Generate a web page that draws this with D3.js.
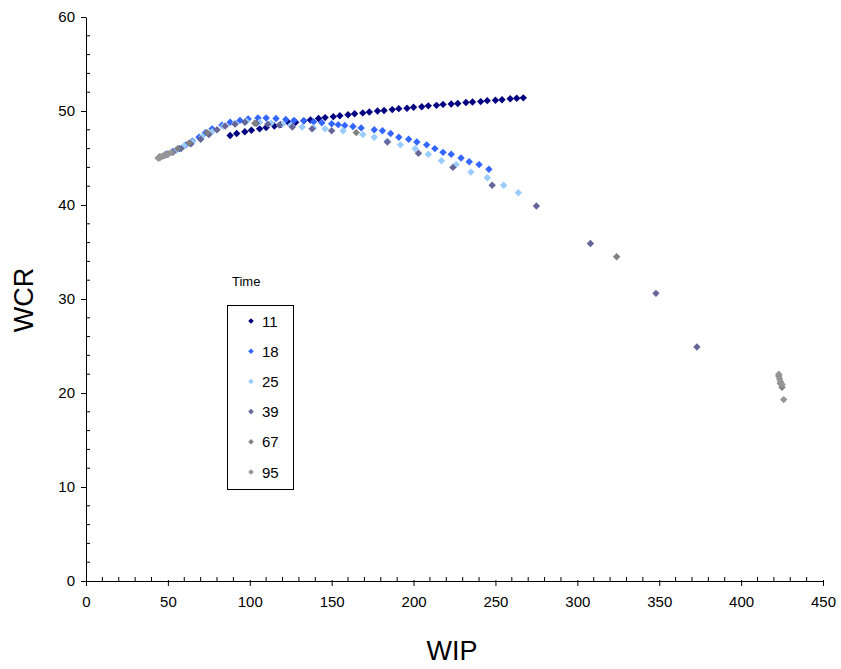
<!DOCTYPE html>
<html>
<head>
<meta charset="utf-8">
<script src="https://cdn.jsdelivr.net/npm/d3@7"></script>
<style>
  body { margin: 0; background: #fff; }
  text { font-family: "Liberation Sans", Arial, sans-serif; }
</style>
</head>
<body>
<svg></svg>
<script>
/**
 * Data.
 */
const seriesNames = ['11', '18', '25', '39', '67', '95'];
const seriesColors = ['#000080', '#3366ff', '#99ccff', '#666699', '#808080', '#969696'];

const t11 = [[88,47.4],[92,47.6],[97,47.8],[101,47.95],[106,48.1],[110,48.25],[115,48.4],[119,48.55],
  [124,48.7],[128,48.8],[133,48.95],[137,49.05],[142,49.2],[146,49.3],[151,49.4],[155,49.5],[160,49.6],
  [164,49.7],[169,49.8],[173,49.9],[178,50.0],[182,50.05],[187,50.15],[191,50.25],[196,50.3],[200,50.4],
  [205,50.45],[209,50.55],[214,50.6],[218,50.7],[223,50.75],[227,50.8],[232,50.9],[236,50.95],[241,51.0],
  [245,51.1],[250,51.15],[254,51.2],[259,51.3],[263,51.35],[267,51.4]];
const t18 = [[45,45.1],[49,45.4],[53,45.7],[57,46.0],[61,46.4],[65,46.8],[69,47.2],[73,47.7],[77,48.1],
  [83,48.5],[88,48.8],[94,49.0],[99,49.15],[105,49.25],[110,49.25],[116,49.2],[122,49.1],[127,49.0],[133,48.95],
  [139,48.85],[144,48.75],[150,48.65],[154,48.55],[158,48.45],[163,48.35],[168,48.2],[176,48.0],[181,47.9],
  [186,47.6],[191,47.2],[197,47.0],[202,46.7],[208,46.4],[213,46.0],[218,45.6],[223,45.4],[229,45.0],
  [234,44.6],[240,44.3],[246,43.8]];
const t25 = [[45,45.0],[50,45.4],[55,45.8],[60,46.3],[65,46.7],[71,47.3],[77,47.8],[84,48.4],[91,48.7],
  [98,48.9],[106,48.8],[113,48.7],[120,48.6],[125,48.5],[132,48.3],[139,48.2],[146,48.1],[157,47.9],
  [169,47.5],[176,47.2],[184,46.8],[192,46.4],[201,46.0],[209,45.4],[217,44.7],[226,44.3],[235,43.5],
  [245,42.9],[255,42.1],[264,41.3]];
const t39 = [[48,45.3],[53,45.6],[58,46.0],[64,46.5],[70,47.0],[75,47.5],[80,48.0],[85,48.4],[91,48.6],
  [97,48.8],[104,48.7],[111,48.6],[118,48.5],[126,48.3],[138,48.1],[150,47.9],[184,46.7],[203,45.5],
  [224,44.0],[248,42.1],[275,39.9],[308,35.9],[348,30.6],[373,24.9]];
const t67 = [[45,45.1],[50,45.4],[56,46.0],[63,46.6],[74,47.7],[103,48.7],[165,47.7],[324,34.5],
  [423,21.8],[424,21.0],[425,20.6]];
const t95 = [[44,45.0],[45,45.05],[46,45.15],[47,45.2],[48,45.3],[50,45.45],[52,45.6],
  [423,22.0],[423.5,21.5],[424,21.2],[425,20.9],[426,19.3]];
const seriesData = [t11, t18, t25, t39, t67, t95];

const xTicks = [0, 50, 100, 150, 200, 250, 300, 350, 400, 450];
const yTicks = [0, 10, 20, 30, 40, 50, 60];

/**
 * Set stuff up.
 */
const width = 841, height = 669;
const svg = d3.select('svg').attr('width', width).attr('height', height);

const x = d3.scaleLinear().domain([0, 450]).range([86, 823]);
const y = d3.scaleLinear().domain([0, 60]).range([581, 17]);

const diamond = r => `M0,${-r}L${r},0L0,${r}L${-r},0Z`;

/**
 * Axes: major ticks outside, minor inside.
 */
const xMinor = d3.range(0, 451, 10).filter(v => v % 50);
const yMinor = d3.range(0, 61, 2).filter(v => v % 10);

const gx = svg.append('g').attr('transform', `translate(0,${y(0)})`);
gx.call(d3.axisBottom(x).tickValues(xTicks).tickSize(5).tickPadding(10).tickSizeOuter(0));
gx.selectAll('.tick line').attr('y1', -1);
gx.selectAll('text').attr('font-size', 15).attr('font-family', 'Liberation Sans, Arial, sans-serif');
gx.selectAll('.minor').data(xMinor).enter().append('line')
    .attr('x1', d => x(d)).attr('x2', d => x(d))
    .attr('y1', 0).attr('y2', -4).attr('stroke', '#000');

const gy = svg.append('g').attr('transform', `translate(${x(0)},0)`);
gy.call(d3.axisLeft(y).tickValues(yTicks).tickSize(5).tickPadding(6).tickSizeOuter(0));
gy.selectAll('text').attr('font-size', 15).attr('font-family', 'Liberation Sans, Arial, sans-serif');
gy.selectAll('.minor').data(yMinor).enter().append('line')
    .attr('y1', d => y(d)).attr('y2', d => y(d))
    .attr('x1', 0).attr('x2', 4).attr('stroke', '#000');

svg.selectAll('.domain').attr('stroke', '#000');

/**
 * Axis titles.
 */
svg.append('text').attr('x', 452).attr('y', 660).attr('text-anchor', 'middle')
    .attr('font-size', 27).text('WIP');
svg.append('text').attr('transform', 'translate(33,300) rotate(-90)')
    .attr('text-anchor', 'middle').attr('font-size', 27).text('WCR');

/**
 * Points.
 */
seriesData.forEach((pts, i) => {
    svg.append('g').selectAll('path').data(pts).enter().append('path')
        .attr('d', diamond(3.7))
        .attr('transform', d => `translate(${x(d[0])},${y(d[1])})`)
        .attr('fill', seriesColors[i]);
});

/**
 * Legend.
 */
svg.append('text').attr('x', 232).attr('y', 286).attr('font-size', 13).text('Time');
svg.append('rect').attr('x', 227.5).attr('y', 305.5).attr('width', 66).attr('height', 184)
    .attr('fill', '#fff').attr('stroke', '#000');
const leg = svg.append('g').selectAll('g').data(seriesNames).enter().append('g')
    .attr('transform', (d, i) => `translate(251,${321 + i * 30.2})`);
leg.append('path').attr('d', diamond(2.8)).attr('fill', (d, i) => seriesColors[i]);
leg.append('text').attr('x', 11).attr('y', 5.5).attr('font-size', 15).text(d => d);
</script>
</body>
</html>
